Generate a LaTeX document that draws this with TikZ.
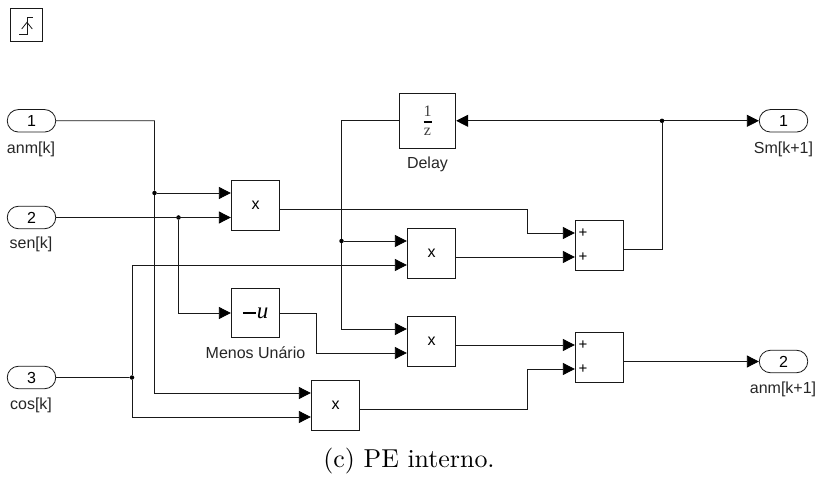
\documentclass[tikz,border=0pt]{standalone}
\usepackage{graphicx}
\usepackage{fontspec}
\newfontfamily\BlockFont{Liberation Sans}
\newfontfamily\GainFont{Liberation Serif}
\usetikzlibrary{arrows.meta,shapes.misc}
\definecolor{WireClr}{rgb}{0.1,0.1,0.1}
\tikzset{
  wire/.style={line width=0.8pt,color=WireClr},
  feed/.style={wire,-{Triangle[length=12pt,width=12pt,color=black]}},
  blockbox/.style={draw=WireClr,line width=0.8pt,inner sep=0pt,font=\BlockFont\fontsize{16}{18}\selectfont},
  portbox/.style={blockbox,rounded rectangle,minimum width=48.5pt,minimum height=22.5pt},
  mulbox/.style={blockbox,minimum width=48.5pt,minimum height=50pt},
  blocklabel/.style={inner sep=0pt,font=\BlockFont\fontsize{16}{18}\selectfont,color=black!85},
  signtext/.style={inner sep=0pt,font=\BlockFont\fontsize{15}{18}\selectfont},
  gaintext/.style={inner sep=0pt,font=\GainFont\fontsize{16}{18}\selectfont,color=black!75},
  junction/.style={circle,fill=black,inner sep=0pt,minimum size=4.5pt}
}

\begin{document}
\begin{tikzpicture}[x=1pt,y=-1pt]
\useasboundingbox (0,0) rectangle (819,478);

\node[draw=WireClr,line width=0.8pt,minimum size=32.5pt,inner sep=0pt] (trigger) at (26.5,25) {};
\coordinate (stepA) at (19.3,34);
\coordinate (stepB) at (27,34);
\coordinate (stepC) at (27,17.7);
\coordinate (stepD) at (33.3,17.7);
\draw[wire] (stepA) -- (stepB) -- (stepC) -- (stepD);
\draw[wire] (21.7,29) -- (27,22.3) -- (32.3,29);

\node[portbox] (anmIn) at (31.5,120.8) {1};
\node[portbox] (senIn) at (31.5,217.5) {2};
\node[portbox] (cosIn) at (31.5,377.5) {3};
\node[blocklabel] at (31,149) {anm[k]};
\node[blocklabel] at (31,244.5) {sen[k]};
\node[blocklabel] at (31,405.5) {cos[k]};

\node[mulbox] (mulA) at (255.5,205) {x};
\node[mulbox] (mulB) at (431.5,253) {x};
\node[mulbox] (mulC) at (431.5,341) {x};
\node[mulbox] (mulD) at (335.5,405.5) {x};

\node[blockbox,minimum width=48.5pt,minimum height=48.5pt,font=\GainFont\fontsize{23}{24}\selectfont] (minus) at (255.5,313) {\rule[4.5pt]{13pt}{1.8pt}\hspace{1pt}\textit{u}};
\node[blocklabel] at (255.5,352.5) {Menos Unário};

\node[blockbox,minimum width=56.5pt,minimum height=54.5pt] (delay) at (427.5,120.8) {};
\node[gaintext] at (427.5,111.5) {1};
\node[gaintext] at (427.5,131.5) {z};
\draw[line width=1.7pt] (423.5,122) -- (431.5,122);
\node[blocklabel] at (427.5,164.5) {Delay};

\node[mulbox] (sumA) at (599.5,245) {};
\node[mulbox] (sumB) at (599.5,357) {};
\node[signtext] at (583,233) {+};
\node[signtext] at (583,257) {+};
\node[signtext] at (583,345.5) {+};
\node[signtext] at (583,369) {+};

\node[portbox] (smOut) at (783.5,120.8) {1};
\node[portbox] (anmOut) at (783.5,361.5) {2};
\node[blocklabel] at (783.5,149) {Sm[k+1]};
\node[blocklabel] at (783,389) {anm[k+1]};

\coordinate (mulAi) at (mulA.west|-0,193);
\coordinate (mulAj) at (mulA.west|-0,217.5);
\coordinate (mulAo) at (mulA.east|-0,209);
\coordinate (mulBi) at (mulB.west|-0,241);
\coordinate (mulBj) at (mulB.west|-0,265);
\coordinate (mulBo) at (mulB.east|-0,257);
\coordinate (mulCi) at (mulC.west|-0,329);
\coordinate (mulCj) at (mulC.west|-0,353);
\coordinate (mulCo) at (mulC.east|-0,345);
\coordinate (mulDi) at (mulD.west|-0,393);
\coordinate (mulDj) at (mulD.west|-0,417);
\coordinate (mulDo) at (mulD.east|-0,409);
\coordinate (sumAi) at (sumA.west|-0,233);
\coordinate (sumAj) at (sumA.west|-0,257);
\coordinate (sumAo) at (sumA.east|-0,249);
\coordinate (sumBi) at (sumB.west|-0,345);
\coordinate (sumBj) at (sumB.west|-0,369);
\coordinate (sumBo) at (sumB.east|-anmOut.west);

\coordinate (anmBus) at (154.5,120.8);
\coordinate (delayBus) at (341.5,120.8);
\coordinate (sumTurnA) at (527.5,209);
\coordinate (sumTurnB) at (527.5,409);
\coordinate (minusTurn) at (316,313);
\coordinate (fbTurn) at (662,249);

\node[junction] (anmDot) at (154.5,193) {};
\node[junction] (senDot) at (178.5,217.5) {};
\node[junction] (cosDot) at (132,377.5) {};
\node[junction] (delayDot) at (341.5,241) {};
\node[junction] (fbDot) at (662,120.8) {};

\draw[wire] (anmIn) -- (anmBus) -- (anmDot);
\draw[feed] (anmDot) -- (mulAi);
\draw[feed] (anmDot) |- (mulDi);
\draw[feed] (senIn.east) -- (mulAj);
\draw[feed] (senDot) |- (minus);
\draw[feed] (minus) -- (minusTurn) |- (mulCj);
\draw[wire] (cosIn) -- (cosDot);
\draw[feed] (cosDot) |- (mulBj);
\draw[feed] (cosDot) |- (mulDj);
\draw[wire] (delay) -- (delayBus) -- (delayDot);
\draw[feed] (delayDot) -- (mulBi);
\draw[feed] (delayDot) |- (mulCi);
\draw[feed] (mulAo) -- (sumTurnA) |- (sumAi);
\draw[feed] (mulBo) -- (sumAj);
\draw[feed] (mulCo) -- (sumBi);
\draw[feed] (mulDo) -- (sumTurnB) |- (sumBj);
\draw[wire] (sumAo) -- (fbTurn) -- (fbDot);
\draw[feed] (fbDot) -- (smOut);
\draw[feed] (fbDot) -- (delay);
\draw[feed] (sumBo) -- (anmOut);

\node (caption) at (409,461) {\scalebox{2.59}{(c) PE interno.}};
\end{tikzpicture}
\end{document}
